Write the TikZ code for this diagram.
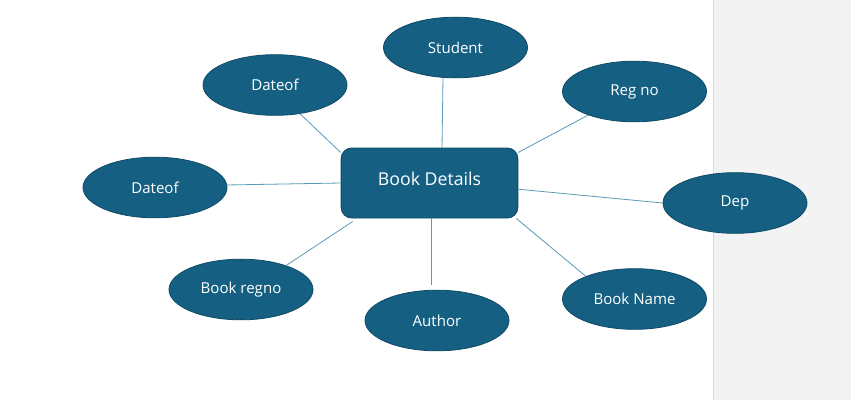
\documentclass[tikz,border=0pt]{standalone}
\usepackage{fontspec}
\setmainfont{Open Sans}
\usetikzlibrary{shapes.geometric}
\definecolor{nodefill}{HTML}{156082}
\definecolor{nodeedge}{HTML}{0E4A66}
\definecolor{linkcol}{HTML}{5A9AB8}
\definecolor{panelgray}{HTML}{F3F3F3}
\definecolor{panelline}{HTML}{D9D9D9}
\tikzset{
  attr/.style={ellipse, draw=nodeedge, line width=0.6pt, fill=nodefill, text=white,
    minimum width=108pt, minimum height=45.5pt, inner sep=0pt, font=\fontsize{11.3}{13}\selectfont},
  entity/.style={rectangle, rounded corners=8pt, draw=nodeedge, line width=0.7pt, fill=nodefill, text=white,
    minimum width=132.5pt, minimum height=52.5pt, inner sep=0pt, font=\fontsize{13.3}{16}\selectfont},
  link/.style={draw=linkcol, line width=0.6pt}
}
\begin{document}
\begin{tikzpicture}[x=0.75pt,y=-0.75pt]
\useasboundingbox (0,0) rectangle (851,400);
\fill[white] (0,0) rectangle (851,400);
\fill[panelgray] (713,0) rectangle (851,400);
\draw[panelline, line width=0.75pt] (713.5,0) -- (713.5,400);

\node[entity] (book) at (429.5,183) {\raisebox{7pt}{Book Details}};
\node[attr] (student) at (455.5,47.5) {Student};
\node[attr] (dateofT) at (275,85) {Dateof};
\node[attr] (regno) at (634.5,91.5) {Reg no};
\node[attr] (dateofL) at (155,187.5) {Dateof};
\node[attr] (dep) at (735,203) {Dep};
\node[attr] (bookregno) at (241,289.5) {Book regno};
\node[attr] (author) at (437,320.5) {Author};
\node[attr] (bookname) at (634.5,299) {Book Name};

\draw[link] (dateofT.-49) -- (book.161);
\draw[link] ([shift={(-12.5,0)}]student.south) -- ([shift={(12.5,0)}]book.north);
\draw[link] (regno.-153) -- (book.19);
\draw[link] (dateofL.2) -- (book.west);
\draw[link] (book.-4) -- (dep.west);
\draw[link] (bookregno.28) -- ([shift={(12,3)}]book.south west);
\draw[link] ([shift={(1.5,0)}]book.south) -- ([shift={(-6,-5)}]author.north);
\draw[link] ([shift={(-2,0)}]book.south east) -- (bookname.155);
\end{tikzpicture}
\end{document}
